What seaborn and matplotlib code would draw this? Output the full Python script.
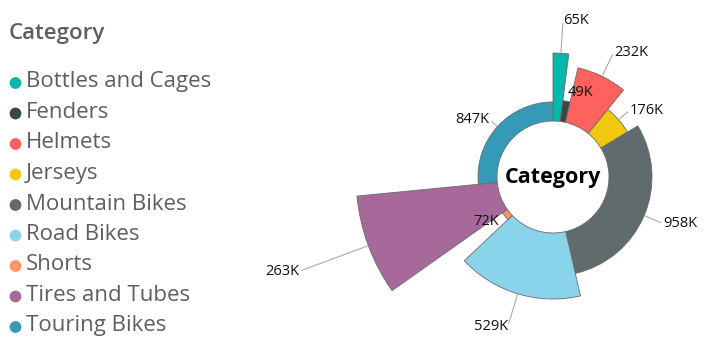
import numpy as np
import matplotlib
matplotlib.use("Agg")
import matplotlib.pyplot as plt
import seaborn as sns

# ---- data ----
categories = ["Bottles and Cages", "Fenders", "Helmets", "Jerseys", "Mountain Bikes",
              "Road Bikes", "Shorts", "Tires and Tubes", "Touring Bikes"]
sales_k = [65, 49, 232, 176, 958, 529, 72, 263, 847]          # angle measure
radius_measure = [124, 77, 112, 87, 99, 122, 62, 197, 75]     # radius measure
value_labels = ["65K", "49K", "232K", "176K", "958K", "529K", "72K", "263K", "847K"]
colors = ["#01B8AA", "#374649", "#FD625E", "#F2C80F", "#5F6B6D",
          "#8AD4EB", "#FE9666", "#A66999", "#3599B8"]

# ---- style ----
sns.set_theme(style="white")
plt.rcParams["font.family"] = ["Open Sans", "DejaVu Sans"]
palette = sns.color_palette(colors)

W, H, DPI = 7.07, 3.5, 100
fig = plt.figure(figsize=(W, H), dpi=DPI)
Wp, Hp = W * DPI, H * DPI

# polar axes: centre at (553,177) px, radius 200 px == 200 units
cx, cy, R = 553, 177, 200
ax = fig.add_axes([(cx - R) / Wp, (Hp - cy - R) / Hp, 2 * R / Wp, 2 * R / Hp],
                  projection="polar")
ax.set_theta_zero_location("N")
ax.set_theta_direction(-1)
ax.set_ylim(0, R)
ax.set_axis_off()

inner = 56
vals = np.array(sales_k, dtype=float)
theta_w = vals / vals.sum() * 2 * np.pi
theta_l = np.concatenate([[0], np.cumsum(theta_w)[:-1]])
outer = np.array(radius_measure, dtype=float)

ax.bar(theta_l, outer - inner, width=theta_w, bottom=inner, align="edge",
       color=palette, edgecolor="#6b6b6b", linewidth=0.6)

# data labels with leader lines
leader_len = [33, 9, 27, 15, 21, 34, 8, 74, 11]
for tl, tw, r, lab, L in zip(theta_l, theta_w, outer, value_labels, leader_len):
    mid = tl + tw / 2
    if L > 10:
        ax.plot([mid, mid], [r + 1, r + L - 3], color="#aaaaaa", lw=0.8,
                clip_on=False)
    ha = "left" if np.sin(mid) > 0 else "right"
    ax.text(mid, r + L, lab, ha=ha, va="center", fontsize=10.5, color="#111111")

ax.text(0, 0, "Category", ha="center", va="center", fontsize=15.5,
        fontweight="bold", color="black")

# ---- legend (pixel coordinate overlay) ----
lax = fig.add_axes([0, 0, 1, 1])
lax.set_xlim(0, Wp)
lax.set_ylim(Hp, 0)
lax.set_axis_off()
lax.patch.set_alpha(0)
lax.text(9, 33, "Category", fontsize=16, fontweight="semibold", color="#605E5C",
         ha="left", va="center")
y0, dy = 82, 30.5
for i, (cat, c) in enumerate(zip(categories, palette)):
    y = y0 + i * dy
    lax.scatter([15.5], [y + 1], s=72, color=c, edgecolor="none")
    lax.text(26, y, cat, fontsize=16, color="#605E5C", ha="left", va="center")

fig.savefig("out.png", dpi=DPI)
